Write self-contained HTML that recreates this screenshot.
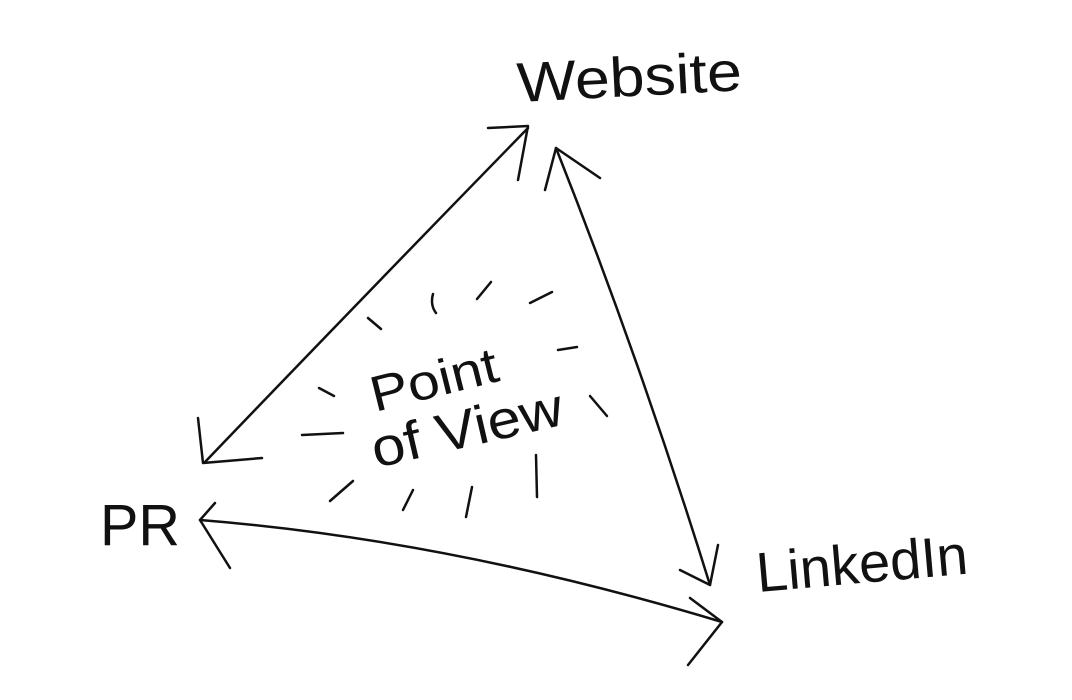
<!DOCTYPE html>
<html><head><style>
html,body{margin:0;padding:0;background:#fff;width:1072px;height:700px;overflow:hidden}
svg text{font-family:"Liberation Sans",sans-serif;fill:#111}
</style></head><body>
<svg width="1072" height="700" viewBox="0 0 1072 700" xmlns="http://www.w3.org/2000/svg">
<g stroke="#111" stroke-width="2.5" fill="none" stroke-linecap="round" stroke-linejoin="round">
<!-- Website-PR -->
<path d="M528 128 Q370 290 205 462"/>
<path d="M488 128 L528 126 L518 180"/>
<path d="M198 418 L203 463 L262 458"/>
<!-- Website-LinkedIn -->
<path d="M556 148 Q640 360 710 585"/>
<path d="M545 190 L556 148 L600 178"/>
<path d="M680 570 L710 585 L718 545"/>
<!-- PR-LinkedIn -->
<path d="M200 520 Q450 540 722 622"/>
<path d="M215 503 L200 520 L230 568"/>
<path d="M690 598 L722 622 L688 665"/>
<!-- rays -->
<path d="M368 318 L381 329"/>
<path d="M433 294 Q430 305 436 313"/>
<path d="M477 299 L491 282"/>
<path d="M530 303 L552 292"/>
<path d="M558 350 L577 347"/>
<path d="M319 388 L334 396"/>
<path d="M302 435 L343 433"/>
<path d="M590 396 L607 416"/>
<path d="M330 501 L353 481"/>
<path d="M403 510 L413 490"/>
<path d="M466 517 L472 487"/>
<path d="M537 497 L536 455"/>
</g>
<text x="518" y="102" font-size="56" transform="rotate(-3 518 102)" textLength="225" lengthAdjust="spacingAndGlyphs">Website</text>
<text x="100" y="545" font-size="58" textLength="80" lengthAdjust="spacingAndGlyphs">PR</text>
<text x="758" y="592" font-size="56" transform="rotate(-5 758 592)" textLength="212" lengthAdjust="spacingAndGlyphs">LinkedIn</text>
<text x="375" y="412" font-size="50" transform="rotate(-14 375 412)" textLength="130" lengthAdjust="spacingAndGlyphs">Point</text>
<text x="376" y="468" font-size="54" transform="rotate(-13 376 468)" textLength="195" lengthAdjust="spacingAndGlyphs">of View</text>
</svg>
</body></html>
